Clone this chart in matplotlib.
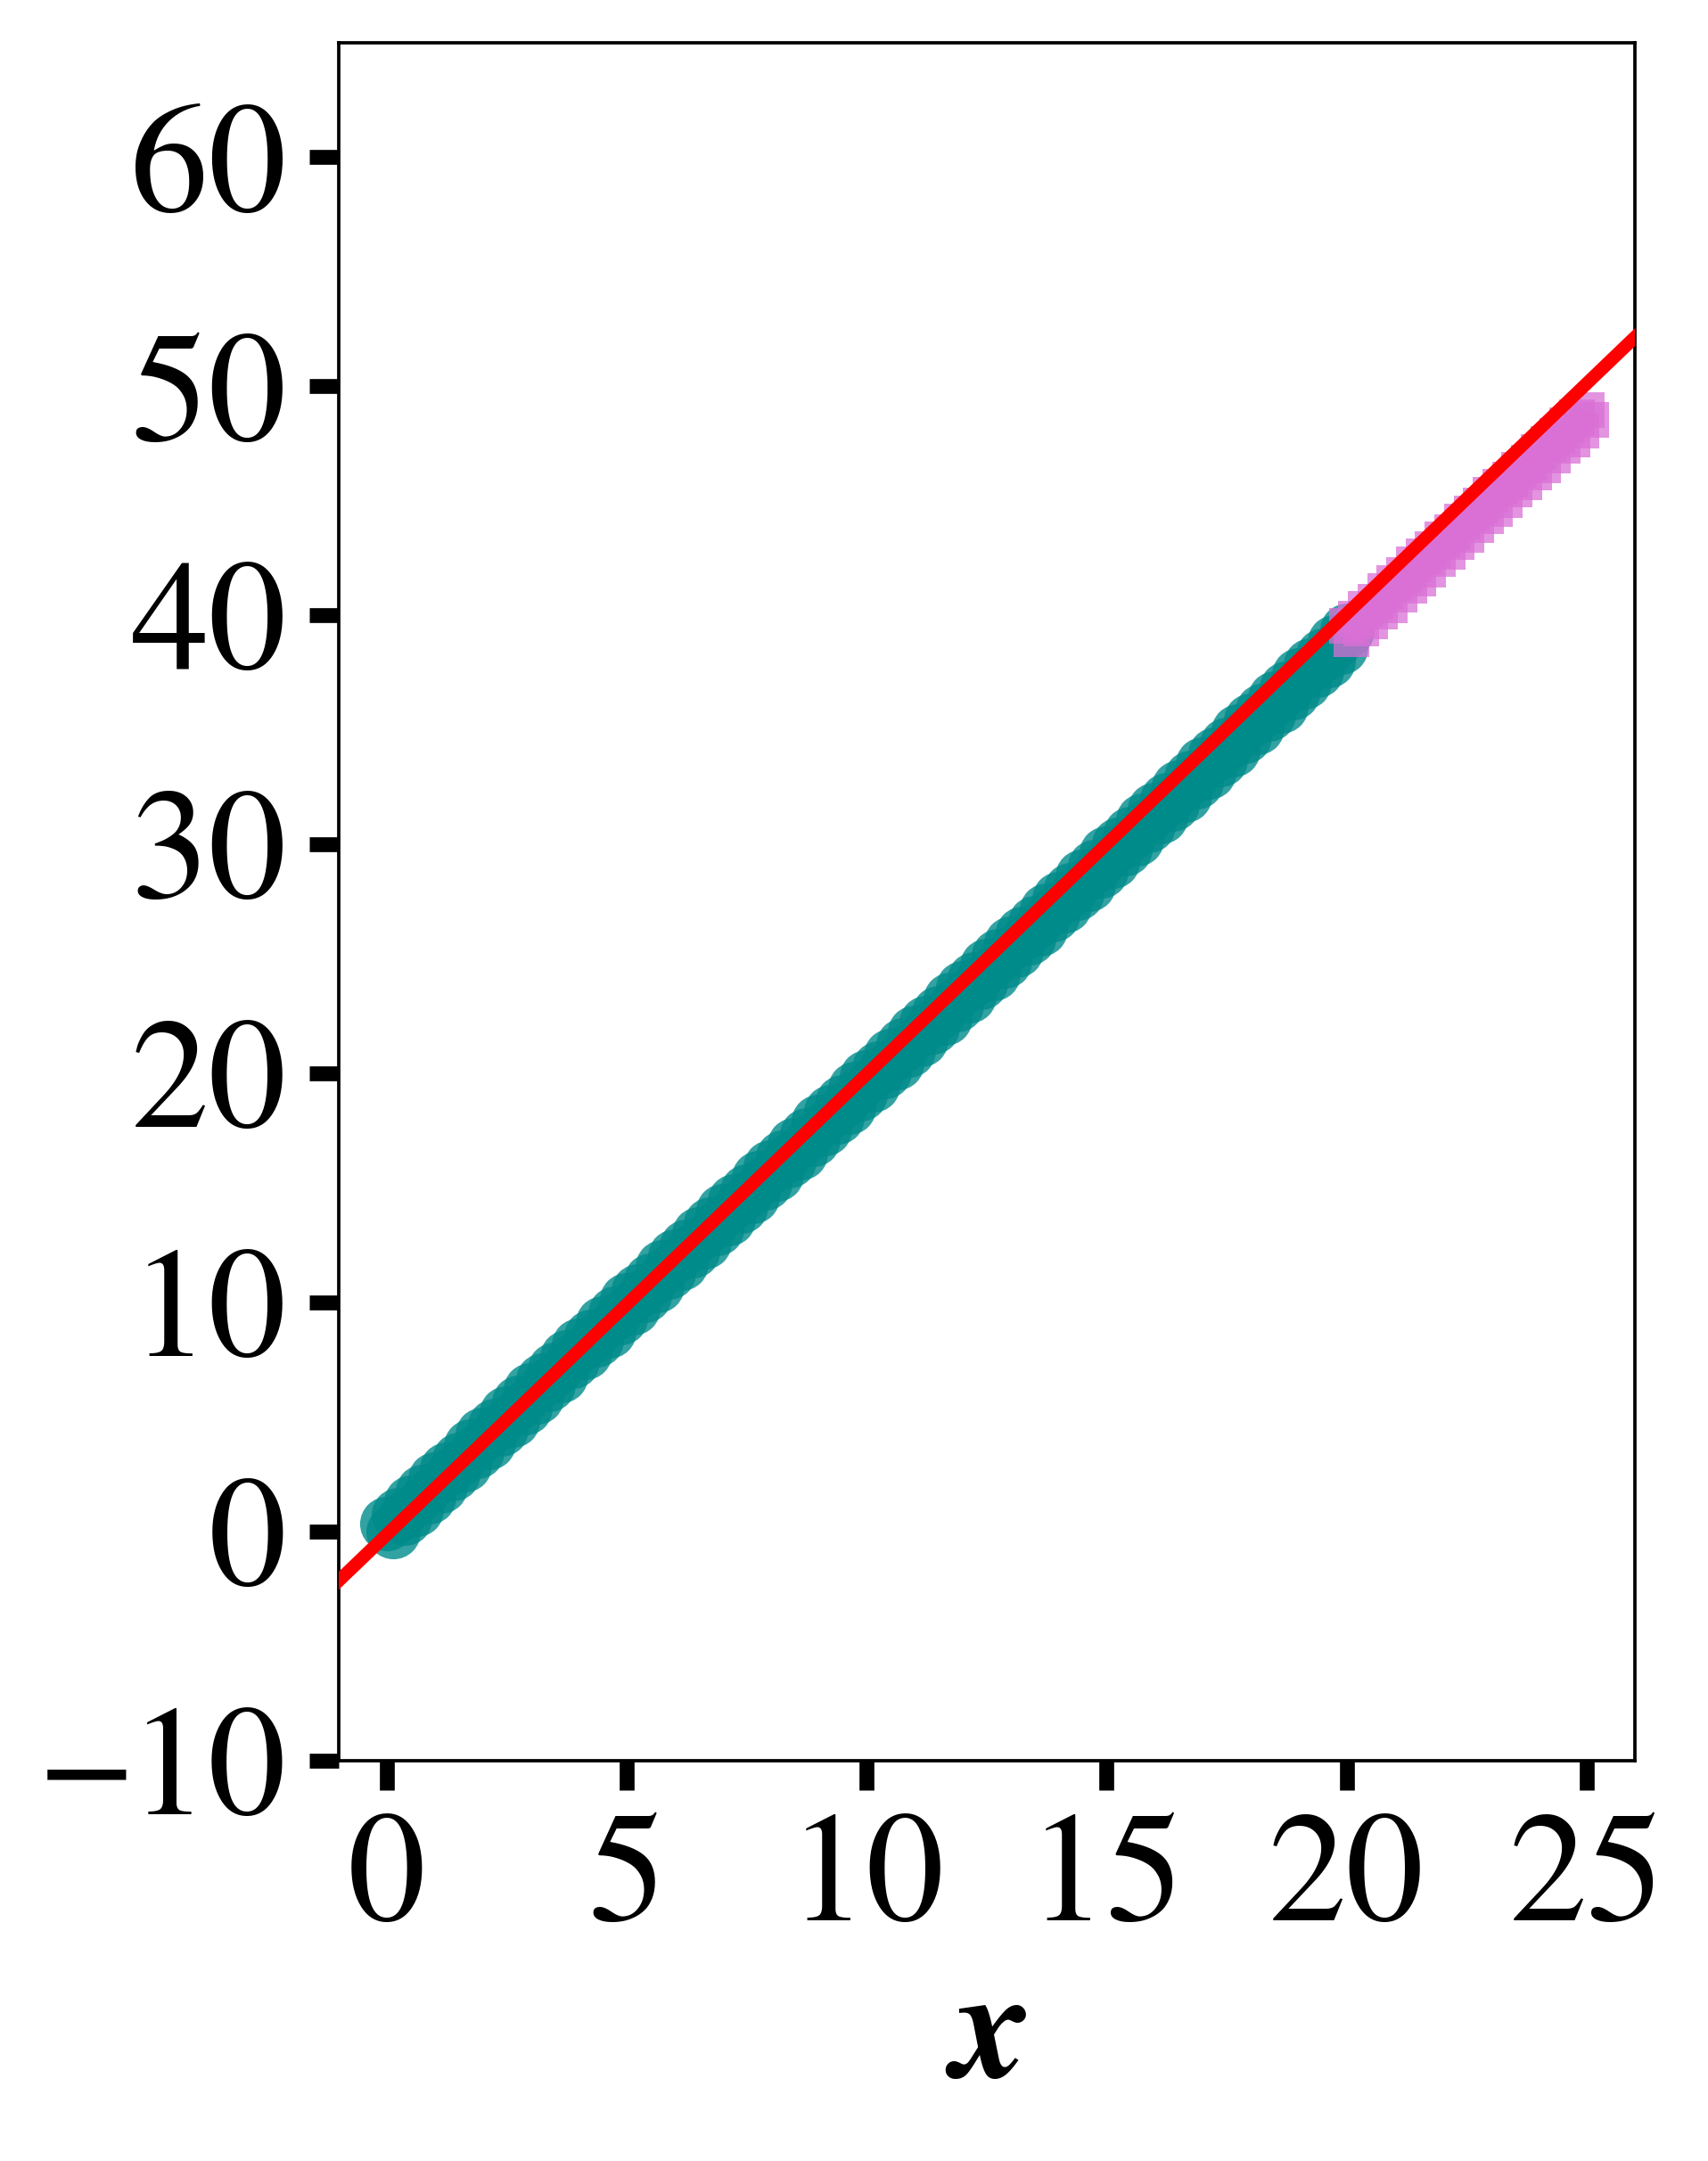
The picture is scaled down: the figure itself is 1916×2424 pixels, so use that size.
import numpy as np
import matplotlib
matplotlib.use("Agg")
import matplotlib.pyplot as plt

plt.rcParams['font.family'] = ['FreeSerif', 'Liberation Serif', 'DejaVu Serif']
plt.rcParams['mathtext.fontset'] = 'stix'

# training data (teal), two interleaved rows of the dense band
train_x_a = [0.0, 0.25, 0.5, 0.75, 1.0, 1.25, 1.5, 1.75, 2.0, 2.25, 2.5, 2.75, 3.0, 3.25, 3.5, 3.75,
             4.0, 4.25, 4.5, 4.75, 5.0, 5.25, 5.5, 5.75, 6.0, 6.25, 6.5, 6.75, 7.0, 7.25, 7.5, 7.75,
             8.0, 8.25, 8.5, 8.75, 9.0, 9.25, 9.5, 9.75, 10.0, 10.25, 10.5, 10.75, 11.0, 11.25, 11.5,
             11.75, 12.0, 12.25, 12.5, 12.75, 13.0, 13.25, 13.5, 13.75, 14.0, 14.25, 14.5, 14.75, 15.0,
             15.25, 15.5, 15.75, 16.0, 16.25, 16.5, 16.75, 17.0, 17.25, 17.5, 17.75, 18.0, 18.25, 18.5,
             18.75, 19.0, 19.25, 19.5, 19.75, 20.0]
train_y_a = [0.34, 0.74, 1.30, 1.74, 2.31, 2.73, 3.17, 3.75, 4.24, 4.64, 5.20, 5.64, 6.21, 6.63, 7.07, 7.65,
             8.14, 8.54, 9.10, 9.54, 10.11, 10.53, 10.97, 11.55, 12.04, 12.44, 13.00, 13.44, 14.01, 14.43,
             14.87, 15.45, 15.94, 16.34, 16.90, 17.34, 17.91, 18.33, 18.77, 19.35, 19.84, 20.24, 20.80,
             21.24, 21.81, 22.23, 22.67, 23.25, 23.74, 24.14, 24.70, 25.14, 25.71, 26.13, 26.57, 27.15,
             27.64, 28.04, 28.60, 29.04, 29.61, 30.03, 30.47, 31.05, 31.54, 31.94, 32.50, 32.94, 33.51,
             33.93, 34.37, 34.95, 35.44, 35.84, 36.40, 36.84, 37.41, 37.83, 38.27, 38.85, 39.34]
train_x_b = [0.125, 0.375, 0.625, 0.875, 1.125, 1.375, 1.625, 1.875, 2.125, 2.375, 2.625, 2.875,
             3.125, 3.375, 3.625, 3.875, 4.125, 4.375, 4.625, 4.875, 5.125, 5.375, 5.625, 5.875,
             6.125, 6.375, 6.625, 6.875, 7.125, 7.375, 7.625, 7.875, 8.125, 8.375, 8.625, 8.875,
             9.125, 9.375, 9.625, 9.875, 10.125, 10.375, 10.625, 10.875, 11.125, 11.375, 11.625, 11.875,
             12.125, 12.375, 12.625, 12.875, 13.125, 13.375, 13.625, 13.875, 14.125, 14.375, 14.625, 14.875,
             15.125, 15.375, 15.625, 15.875, 16.125, 16.375, 16.625, 16.875, 17.125, 17.375, 17.625, 17.875,
             18.125, 18.375, 18.625, 18.875, 19.125, 19.375, 19.625, 19.875]
train_y_b = [0.01, 0.58, 0.96, 1.53, 1.98, 2.52, 2.93, 3.52, 3.91, 4.48, 4.86, 5.43, 5.88, 6.42, 6.83, 7.42,
             7.81, 8.38, 8.76, 9.33, 9.78, 10.32, 10.73, 11.32, 11.71, 12.28, 12.66, 13.23, 13.68, 14.22,
             14.63, 15.22, 15.61, 16.18, 16.56, 17.13, 17.58, 18.12, 18.53, 19.12, 19.51, 20.08, 20.46,
             21.03, 21.48, 22.02, 22.43, 23.02, 23.41, 23.98, 24.36, 24.93, 25.38, 25.92, 26.33, 26.92,
             27.31, 27.88, 28.26, 28.83, 29.28, 29.82, 30.23, 30.82, 31.21, 31.78, 32.16, 32.73, 33.18,
             33.72, 34.13, 34.72, 35.11, 35.68, 36.06, 36.63, 37.08, 37.62, 38.03, 38.62]

# test data (pink), two interleaved rows
test_x_a = [20.0, 20.2, 20.4, 20.6, 20.8, 21.0, 21.2, 21.4, 21.6, 21.8, 22.0, 22.2, 22.4, 22.6, 22.8,
            23.0, 23.2, 23.4, 23.6, 23.8, 24.0, 24.2, 24.4, 24.6, 24.8, 25.0]
test_y_a = [39.55, 39.84, 40.28, 40.58, 41.05, 41.40, 41.75, 42.22, 42.59, 42.88, 43.32, 43.62, 44.09,
            44.44, 44.79, 45.26, 45.63, 45.92, 46.36, 46.66, 47.13, 47.48, 47.83, 48.30, 48.67, 48.96]
test_x_b = [20.1, 20.3, 20.5, 20.7, 20.9, 21.1, 21.3, 21.5, 21.7, 21.9, 22.1, 22.3, 22.5, 22.7, 22.9,
            23.1, 23.3, 23.5, 23.7, 23.9, 24.1, 24.3, 24.5, 24.7, 24.9, 25.1]
test_y_b = [38.95, 39.42, 39.73, 40.16, 40.46, 40.90, 41.31, 41.62, 41.99, 42.46, 42.77, 43.20, 43.50,
            43.94, 44.35, 44.66, 45.03, 45.50, 45.81, 46.24, 46.54, 46.98, 47.39, 47.70, 48.07, 48.54]

# fitted line
fit_slope = 2.01
fit_intercept = -0.13

x_ticks = [0, 5, 10, 15, 20, 25]
y_ticks = [-10, 0, 10, 20, 30, 40, 50, 60]

fig = plt.figure(figsize=(1916 / 300, 2424 / 300), dpi=300)
ax = fig.add_axes([0.1983, 0.1852, 0.957 - 0.1983, 0.9802 - 0.1852])

train_x = train_x_a + train_x_b
train_y = train_y_a + train_y_b
test_x = test_x_a + test_x_b
test_y = test_y_a + test_y_b

ax.scatter(train_x, train_y, s=215, marker='o', color='#008B8B', alpha=0.8, linewidths=0, zorder=2)
ax.scatter(test_x, test_y, s=88, marker='s', color='#DA70D6', alpha=0.75, linewidths=0, zorder=3)
ax.axline((0, fit_intercept), slope=fit_slope, color='#FF0000', linewidth=3.5, zorder=4)

ax.set_xlim(-1, 26)
ax.set_ylim(-10, 65)
ax.set_xticks(x_ticks)
ax.set_yticks(y_ticks)
ax.tick_params(axis='both', which='major', labelsize=42, length=8, width=4, pad=6)
for sp in ax.spines.values():
    sp.set_linewidth(0.9)

ax.set_xlabel('x', fontsize=42, fontstyle='italic', fontweight='bold', labelpad=4)

fig.savefig('out.png', dpi=300)
